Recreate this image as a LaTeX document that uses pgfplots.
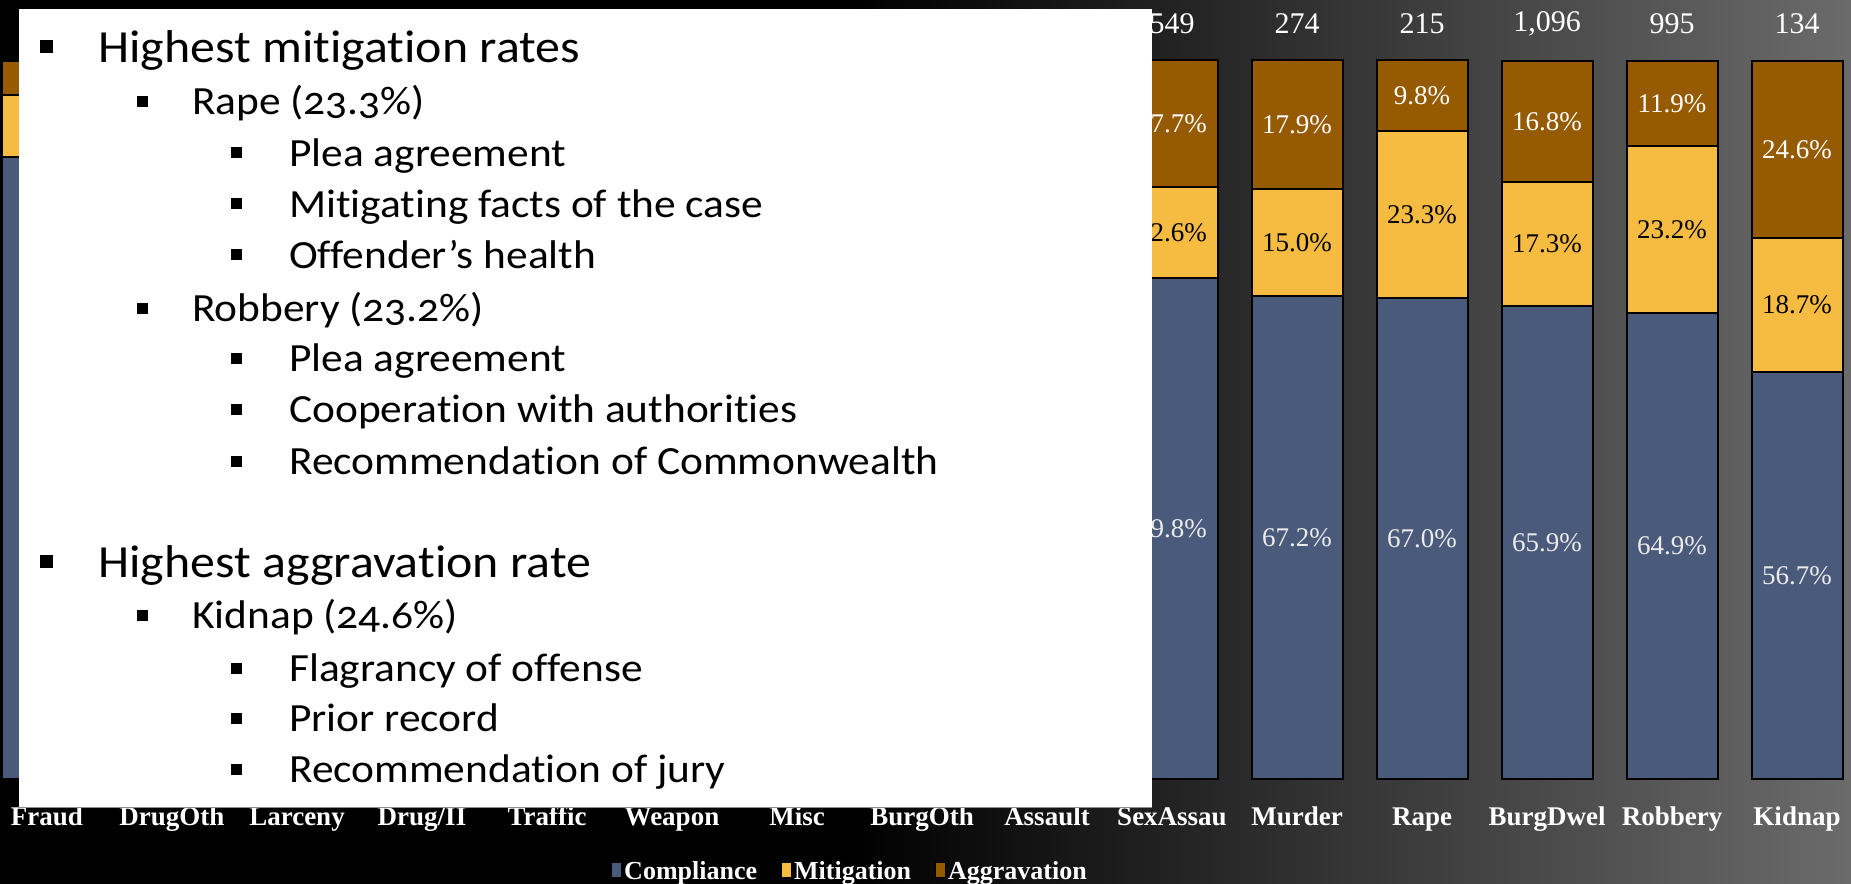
\documentclass[border=0pt]{standalone}
\usepackage{fontspec}
\setmainfont{Liberation Serif}
\newfontfamily\bulletfont[Numbers=OldStyle, Ligatures=NoCommon, FakeStretch=1.085]{Carlito}
\usepackage{pgfplots}
\pgfplotsset{compat=1.18}

\definecolor{compl}{RGB}{74,90,122}
\definecolor{mitig}{RGB}{246,188,65}
\definecolor{aggr}{RGB}{150,90,0}

% shared geometry: one unit = one pixel of the 1851x884 slide
\pgfplotsset{
  slidegeom/.style={
    scale only axis, width=1875bp, height=718bp,
    xmin=-0.5, xmax=14.5, ymin=0, ymax=100,
    at={(-15.5bp,105bp)}, anchor=south west,
    clip=false,
  },
  seglabel/.style={draw=none, mark=none, nodes near coords,
    point meta=explicit symbolic,
    every node near coord/.append style={anchor=center, inner sep=0pt,
      font=\fontsize{27bp}{27bp}\selectfont, text=#1}},
}

\begin{document}
\begin{tikzpicture}
\fill[black] (0,0) rectangle (1851bp,884bp);
\shade[left color=black, right color=black!58!white] (850bp,0) rectangle (1851bp,884bp);

\begin{axis}[slidegeom, ybar stacked, bar width=91bp,
  axis line style={draw=none}, major tick length=0pt, ytick=\empty,
  xtick={0,...,14},
  xticklabels={Fraud,DrugOth,Larceny,Drug/II,Traffic,Weapon,Misc,BurgOth,Assault,SexAssau,Murder,Rape,BurgDwel,Robbery,Kidnap},
  xticklabel style={font=\fontsize{27bp}{27bp}\selectfont\bfseries, text=white, anchor=base, yshift=-46bp},
  legend image code/.code={\draw[#1, line width=1bp] (0bp,-7bp) rectangle (10bp,8bp);},
  legend style={at={(0.4616,-0.128)}, anchor=center, draw=none, fill=none,
    legend columns=3, text=white, font=\fontsize{26bp}{26bp}\selectfont\bfseries,
    /tikz/every even column/.append style={column sep=22bp}},
]
% bars 0-8 sit under the text box; their values are estimates
\addplot[fill=compl, draw=black, line width=2bp] coordinates {
  (0,86.6) (1,84.5) (2,81.9) (3,80.3) (4,78.6) (5,76.2) (6,74.8) (7,72.4)
  (8,70.9) (9,69.8) (10,67.2) (11,67.0) (12,65.9) (13,64.9) (14,56.7)};
\addplot[fill=mitig, draw=black, line width=2bp] coordinates {
  (0,8.7) (1,9.8) (2,10.4) (3,11.2) (4,9.1) (5,11.5) (6,13.6) (7,14.9)
  (8,14.3) (9,12.6) (10,15.0) (11,23.3) (12,17.3) (13,23.2) (14,18.7)};
\addplot[fill=aggr, draw=black, line width=2bp] coordinates {
  (0,4.7) (1,5.7) (2,7.7) (3,8.5) (4,12.3) (5,12.3) (6,11.6) (7,12.7)
  (8,14.8) (9,17.7) (10,17.9) (11,9.8) (12,16.8) (13,11.9) (14,24.6)};
\legend{Compliance,Mitigation,Aggravation}
\end{axis}

\begin{axis}[slidegeom, hide axis]
\addplot[seglabel=black!8] coordinates {
  (9,34.9)[69.8\%] (10,33.6)[67.2\%] (11,33.5)[67.0\%]
  (12,32.95)[65.9\%] (13,32.45)[64.9\%] (14,28.35)[56.7\%]};
\addplot[seglabel=black] coordinates {
  (9,76.1)[12.6\%] (10,74.7)[15.0\%] (11,78.65)[23.3\%]
  (12,74.55)[17.3\%] (13,76.5)[23.2\%] (14,66.05)[18.7\%]};
\addplot[seglabel=white] coordinates {
  (9,91.25)[17.7\%] (10,91.15)[17.9\%] (11,95.2)[9.8\%]
  (12,91.6)[16.8\%] (13,94.05)[11.9\%] (14,87.7)[24.6\%]};
\addplot[draw=none, mark=none, nodes near coords, point meta=explicit symbolic,
  every node near coord/.append style={anchor=center, inner sep=0pt,
    font=\fontsize{30bp}{30bp}\selectfont, text=white}] coordinates {
  (9,105.15)[549] (10,105.15)[274] (11,105.15)[215]
  (12,105.15)[1,096] (13,105.15)[995] (14,105.15)[134]};
\end{axis}

% text box laid over the chart
\fill[white] (19bp,76bp) rectangle (1152bp,874.5bp);
\draw[black!45, line width=1bp] (19bp,76bp) -- (1152bp,76bp);

\begin{scope}[every node/.style={anchor=base west, inner sep=0pt, text=black}]
\fill (40bp,831bp) rectangle (53bp,844bp);
\node[font=\bulletfont\fontsize{46bp}{46bp}\selectfont] at (98bp,821bp) {Highest mitigation rates};
\fill (137bp,777bp) rectangle (148bp,788bp);
\node[font=\bulletfont\fontsize{40bp}{40bp}\selectfont] at (192bp,769bp) {Rape (23.3\%)};
\fill (231bp,726bp) rectangle (242bp,737bp);
\node[font=\bulletfont\fontsize{40bp}{40bp}\selectfont] at (289bp,717bp) {Plea agreement};
\fill (231bp,675bp) rectangle (242bp,686bp);
\node[font=\bulletfont\fontsize{40bp}{40bp}\selectfont] at (289bp,666bp) {Mitigating facts of the case};
\fill (231bp,624bp) rectangle (242bp,635bp);
\node[font=\bulletfont\fontsize{40bp}{40bp}\selectfont] at (289bp,615bp) {Offender’s health};
\fill (137bp,570bp) rectangle (148bp,581bp);
\node[font=\bulletfont\fontsize{40bp}{40bp}\selectfont] at (192bp,562bp) {Robbery (23.2\%)};
\fill (231bp,520bp) rectangle (242bp,531bp);
\node[font=\bulletfont\fontsize{40bp}{40bp}\selectfont] at (289bp,512bp) {Plea agreement};
\fill (231bp,469bp) rectangle (242bp,480bp);
\node[font=\bulletfont\fontsize{40bp}{40bp}\selectfont] at (289bp,461bp) {Cooperation with authorities};
\fill (231bp,417bp) rectangle (242bp,428bp);
\node[font=\bulletfont\fontsize{40bp}{40bp}\selectfont] at (289bp,409bp) {Recommendation of Commonwealth};
\fill (40bp,316bp) rectangle (53bp,329bp);
\node[font=\bulletfont\fontsize{46bp}{46bp}\selectfont] at (98bp,306bp) {Highest aggravation rate};
\fill (137bp,263bp) rectangle (148bp,274bp);
\node[font=\bulletfont\fontsize{40bp}{40bp}\selectfont] at (192bp,255bp) {Kidnap (24.6\%)};
\fill (231bp,210bp) rectangle (242bp,221bp);
\node[font=\bulletfont\fontsize{40bp}{40bp}\selectfont] at (289bp,202bp) {Flagrancy of offense};
\fill (231bp,160bp) rectangle (242bp,171bp);
\node[font=\bulletfont\fontsize{40bp}{40bp}\selectfont] at (289bp,152bp) {Prior record};
\fill (231bp,109bp) rectangle (242bp,120bp);
\node[font=\bulletfont\fontsize{40bp}{40bp}\selectfont] at (289bp,101bp) {Recommendation of jury};
\end{scope}

\pgfresetboundingbox
\useasboundingbox (0,0) rectangle (1851bp,884bp);
\end{tikzpicture}
\end{document}
